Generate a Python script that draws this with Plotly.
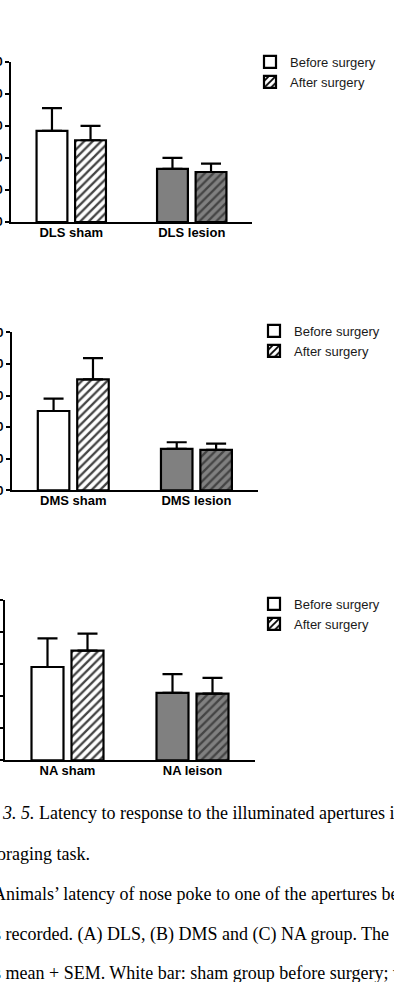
import plotly.graph_objects as go

# ---- data ----
cats_dls = ["DLS sham", "DLS lesion"]
cats_dms = ["DMS sham", "DMS lesion"]
cats_na = ["NA sham", "NA leison"]

dls_before = [28.4, 16.6]
dls_before_sem = [7.1, 3.4]
dls_after = [25.5, 15.6]
dls_after_sem = [4.5, 2.6]

dms_before = [25.1, 13.1]
dms_before_sem = [3.9, 2.1]
dms_after = [35.1, 12.8]
dms_after_sem = [6.7, 2.0]

na_before = [29.1, 21.0]
na_before_sem = [8.9, 5.9]
na_after = [34.2, 20.8]
na_after_sem = [5.3, 4.9]

tick_vals = [0, 10, 20, 30, 40, 50]
tick_text = ["0", "10", "20", "30", "40", "50"]

bar_colors = ["white", "#808080"]

caption_lines = [
    "<i>3. 5.</i> Latency to response to the illuminated apertures in",
    "foraging task.",
    "Animals\u2019 latency of nose poke to one of the apertures being",
    "was recorded. (A) DLS, (B) DMS and (C) NA group. The",
    "as mean + SEM. White bar: sham group before surgery; white",
]

W, H = 394, 982

fig = go.Figure()

panels = [
    (cats_dls, dls_before, dls_before_sem, dls_after, dls_after_sem, "", "legend"),
    (cats_dms, dms_before, dms_before_sem, dms_after, dms_after_sem, "2", "legend2"),
    (cats_na, na_before, na_before_sem, na_after, na_after_sem, "3", "legend3"),
]

for cats, b, bs, a, asem, sfx, leg in panels:
    fig.add_trace(go.Bar(
        x=cats, y=b, name="Before surgery",
        xaxis="x" + sfx, yaxis="y" + sfx, legend=leg,
        marker=dict(color=bar_colors, line=dict(color="black", width=2.2)),
        error_y=dict(type="data", array=bs, arrayminus=[0] * len(bs), symmetric=False,
                     color="black", thickness=2.2, width=10),
    ))
    fig.add_trace(go.Bar(
        x=cats, y=a, name="After surgery",
        xaxis="x" + sfx, yaxis="y" + sfx, legend=leg,
        marker=dict(color=bar_colors, line=dict(color="black", width=2.2),
                    pattern=dict(shape="/", fgcolor="black", fgopacity=1,
                                 bgcolor=bar_colors, size=6, solidity=0.38)),
        error_y=dict(type="data", array=asem, arrayminus=[0] * len(asem), symmetric=False,
                     color="black", thickness=2.2, width=10),
    ))

def px_x(p):
    return p / W

def px_y(p):
    return 1 - p / H

domains = [
    ((11, 252), (222, 61.7)),
    ((11.7, 258), (490.3, 332.3)),
    ((5, 255), (760.3, 600)),
]

layout = dict(
    width=W, height=H,
    margin=dict(l=0, r=0, t=0, b=0),
    paper_bgcolor="white", plot_bgcolor="white",
    barmode="group", bargap=0.36, bargroupgap=0.2,
    font=dict(family="Liberation Sans, Arial, sans-serif", color="black"),
)

for i, ((x0, x1), (yb, yt)) in enumerate(domains):
    sfx = "" if i == 0 else str(i + 1)
    layout["xaxis" + sfx] = dict(
        domain=[px_x(x0), px_x(x1)], anchor="y" + sfx,
        showline=True, linecolor="black", linewidth=2, ticks="",
        ticklabelstandoff=-3,
        showgrid=False, zeroline=False, automargin=False,
        tickfont=dict(family="Liberation Sans, Arial, sans-serif", size=13, color="black",
                      weight="bold"),
        fixedrange=True,
    )
    layout["yaxis" + sfx] = dict(
        domain=[px_y(yb), px_y(yt)], anchor="x" + sfx,
        range=[0, 50], tickvals=tick_vals, ticktext=tick_text,
        showline=True, linecolor="black", linewidth=2,
        ticks="outside", ticklen=4, tickwidth=2, tickcolor="black",
        showgrid=False, zeroline=False, automargin=False,
        tickfont=dict(family="Liberation Sans, Arial, sans-serif", size=12, color="black",
                      weight="bold"),
        fixedrange=True,
    )

legend_tops = [47, 316, 589]
for i, top in enumerate(legend_tops):
    key = "legend" if i == 0 else "legend" + str(i + 1)
    layout[key] = dict(
        x=px_x(250 + (4 if i else 0)), y=px_y(top), xanchor="left", yanchor="top",
        bgcolor="rgba(0,0,0,0)", borderwidth=0, traceorder="normal",
        font=dict(family="Liberation Sans, Arial, sans-serif", size=13, color="#1a1a1a"),
        tracegroupgap=0,
    )

fig.update_layout(**layout)

caption_y = [813, 854, 894, 934, 973]
caption_x = [-0.5, -11, -9.3, -29, -15.8]
for txt, yy, xx in zip(caption_lines, caption_y, caption_x):
    fig.add_annotation(
        text=txt, xref="paper", yref="paper", x=px_x(xx), y=px_y(yy),
        xanchor="left", yanchor="middle", showarrow=False,
        font=dict(family="Liberation Serif, Times New Roman, serif", size=18, color="black"),
    )

fig.write_html("out.html")
